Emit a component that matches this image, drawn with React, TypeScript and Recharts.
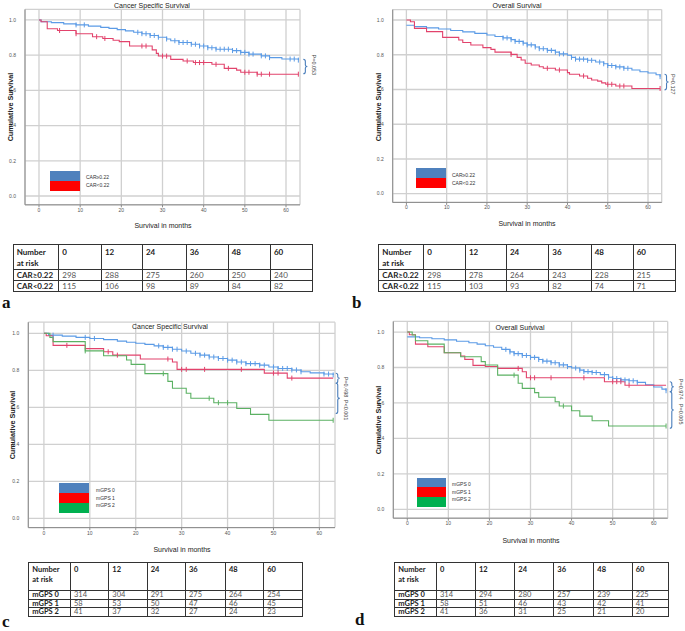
import React from "react";
import {
  ComposedChart,
  Line,
  Scatter,
  XAxis,
  YAxis,
  CartesianGrid,
  ReferenceLine,
  ReferenceDot,
} from "recharts";

type Step = [number, number];

const monthTicks = [0, 10, 20, 30, 40, 50, 60];
const survTicks = [0, 0.2, 0.4, 0.6, 0.8, 1.0];
const riskTimes = [0, 12, 24, 36, 48, 60];

const carNames = ["CAR≥0.22", "CAR<0.22"];
const gpsNames = ["mGPS 0", "mGPS 1", "mGPS 2"];

// a: cancer specific survival by CAR
const cssCarHigh: Step[] = [
  [0, 1], [0.5, 0.99], [3, 0.985], [6, 0.978], [9, 0.972], [12, 0.965], [15, 0.958],
  [17, 0.952], [19, 0.945], [21, 0.938], [23, 0.93], [25, 0.922], [27, 0.912], [29, 0.902],
  [31, 0.892], [32, 0.882], [34, 0.872], [37, 0.862], [39, 0.852], [41, 0.842], [43, 0.834],
  [47, 0.826], [49, 0.816], [51, 0.806], [54, 0.796], [56, 0.786], [59, 0.778], [63, 0.772],
];
const cssCarHighCens = [9, 11, 24, 25, 26, 27, 28, 29, 31, 33, 34, 35, 36, 37, 38, 39, 40, 41, 42, 43, 44, 45, 46, 47, 48, 49, 50, 51, 52, 54, 55, 56, 61, 62, 63];
const cssCarLow: Step[] = [
  [0, 1], [0.5, 0.99], [2, 0.95], [4.5, 0.94], [9, 0.922], [13, 0.905], [15.5, 0.895],
  [18, 0.885], [19.5, 0.877], [22, 0.852], [27.5, 0.83], [28.5, 0.81], [29, 0.795],
  [32, 0.776], [35, 0.767], [37.5, 0.758], [42, 0.748], [45, 0.725], [48, 0.715],
  [49, 0.703], [53, 0.692], [63, 0.692],
];
const cssCarLowCens = [5, 9, 14, 16, 25, 26, 30, 31, 36, 38, 39, 40, 43, 46, 50, 51, 53, 54, 56, 63];

// b: overall survival by CAR
const osCarHigh: Step[] = [
  [0, 0.97], [2, 0.962], [5, 0.955], [8, 0.948], [11, 0.94], [14, 0.932], [17, 0.923],
  [20, 0.914], [22, 0.905], [24, 0.897], [26, 0.887], [27, 0.877], [29, 0.867], [30, 0.857],
  [32, 0.845], [33, 0.835], [35, 0.825], [37, 0.815], [38, 0.805], [40, 0.797], [41, 0.785],
  [42, 0.775], [45, 0.768], [47, 0.758], [49, 0.748], [50, 0.738], [52, 0.73], [54, 0.722],
  [56, 0.712], [58, 0.702], [60, 0.695], [62, 0.685], [63, 0.674],
];
const osCarHighCens = [24, 25, 26, 27, 28, 29, 30, 31, 32, 33, 34, 35, 36, 37, 38, 39, 41, 42, 43, 44, 45, 46, 48, 49, 50, 51, 52, 53, 54, 55, 63];
const osCarLow: Step[] = [
  [0, 1], [1, 0.99], [2, 0.952], [5, 0.933], [9, 0.9], [13, 0.885], [14, 0.871], [16, 0.856],
  [19, 0.841], [21, 0.831], [22, 0.815], [26, 0.802], [27.5, 0.785], [28.5, 0.77],
  [29.5, 0.751], [31, 0.741], [33, 0.731], [34, 0.722], [37, 0.712], [40, 0.697],
  [40.5, 0.688], [43, 0.678], [45, 0.665], [46, 0.655], [47.5, 0.648], [48.5, 0.638],
  [49.5, 0.63], [52, 0.62], [56, 0.606], [63, 0.606],
];
const osCarLowCens = [26, 35, 38, 44, 50, 51, 53, 54, 63];

// c: cancer specific survival by mGPS
const cssGps0: Step[] = [
  [0, 1], [1, 0.99], [4, 0.985], [7, 0.978], [10, 0.972], [13, 0.966], [16, 0.958],
  [18, 0.952], [20, 0.946], [22, 0.94], [24, 0.932], [26, 0.924], [28, 0.914], [30, 0.904],
  [32, 0.892], [34, 0.882], [36, 0.872], [38, 0.864], [40, 0.855], [42, 0.845], [44, 0.836],
  [47, 0.828], [49, 0.818], [51, 0.81], [54, 0.802], [56, 0.792], [58, 0.786], [61, 0.78],
  [63, 0.775],
];
const cssGps0Cens = [2, 9, 11, 25, 26, 27, 28, 29, 31, 33, 34, 35, 36, 37, 38, 39, 40, 41, 42, 43, 44, 45, 46, 47, 48, 50, 51, 52, 53, 54, 55, 56, 61, 62, 63];
const cssGps1: Step[] = [
  [0, 1], [0.5, 0.987], [2, 0.935], [9, 0.917], [13, 0.9], [15, 0.882], [21, 0.861],
  [28, 0.845], [29, 0.805], [48, 0.785], [53, 0.758], [63, 0.758],
];
const cssGps1Cens = [5, 14, 16, 27, 30, 31, 35, 43, 50, 51, 54];
const cssGps2: Step[] = [
  [0, 1], [1.3, 0.978], [2, 0.955], [9, 0.905], [13, 0.879], [18, 0.856], [19, 0.832],
  [22, 0.782], [27, 0.74], [28, 0.703], [31, 0.676], [32, 0.649], [37, 0.625], [42, 0.594],
  [45, 0.562], [49, 0.53], [63, 0.53],
];
const cssGps2Cens = [9, 26, 36, 38, 40, 63];

// d: overall survival by mGPS
const osGps0: Step[] = [
  [0, 0.973], [3, 0.968], [6, 0.962], [9, 0.956], [12, 0.948], [15, 0.94], [17, 0.932],
  [19, 0.923], [21, 0.914], [23, 0.902], [25, 0.888], [26, 0.878], [28, 0.868], [30, 0.857],
  [32, 0.845], [33, 0.836], [35, 0.827], [37, 0.815], [39, 0.805], [40, 0.797], [42, 0.785],
  [43, 0.777], [45, 0.772], [47, 0.76], [49, 0.745], [50, 0.738], [52, 0.73], [54, 0.725],
  [56, 0.716], [58, 0.703], [60, 0.69], [62, 0.678], [63, 0.669],
];
const osGps0Cens = [24, 25, 26, 27, 28, 29, 30, 31, 32, 33, 34, 35, 36, 37, 38, 39, 41, 42, 43, 44, 45, 46, 48, 49, 50, 51, 52, 53, 54, 55, 56, 63];
const osGps1: Step[] = [
  [0, 1], [0.5, 0.985], [2, 0.932], [5, 0.917], [9, 0.883], [13, 0.865], [14, 0.846],
  [16, 0.812], [19, 0.806], [22, 0.795], [28, 0.776], [29, 0.742], [48, 0.72], [53, 0.7],
  [63, 0.7],
];
const osGps1Cens = [27, 30, 31, 35, 43, 50, 51, 52, 54];
const osGps2: Step[] = [
  [0, 1], [1.2, 0.983], [2, 0.951], [5, 0.932], [9, 0.883], [13, 0.861], [18, 0.833],
  [19, 0.814], [22, 0.757], [27, 0.711], [28, 0.682], [31, 0.658], [32, 0.632], [36, 0.607],
  [37, 0.583], [40, 0.556], [42, 0.526], [45, 0.5], [49, 0.47], [63, 0.47],
];
const osGps2Cens = [26, 38, 63];

// numbers at risk
const riskCssCarHigh = [298, 288, 275, 260, 250, 240];
const riskCssCarLow = [115, 106, 98, 89, 84, 82];
const riskOsCarHigh = [298, 278, 264, 243, 228, 215];
const riskOsCarLow = [115, 103, 93, 82, 74, 71];
const riskCssGps0 = [314, 304, 291, 275, 264, 254];
const riskCssGps1 = [58, 53, 50, 47, 46, 45];
const riskCssGps2 = [41, 37, 32, 27, 24, 23];
const riskOsGps0 = [314, 294, 280, 257, 239, 225];
const riskOsGps1 = [58, 51, 46, 43, 42, 41];
const riskOsGps2 = [41, 36, 31, 25, 21, 20];

// p-values
const pCssCar = ["P=0.053"];
const pOsCar = ["P=0.127"];
const pCssGps = ["P=0.498", "P<0.001"];
const pOsGps = ["P=0.974", "P=0.005"];

const LINE_COLORS = ["#5b9be6", "#e2436c", "#5bb163"];
const BOX_COLORS = ["#4f81bd", "#ff0000", "#00b050"];
const SPSS_FONT = '"Liberation Sans Narrow", "Liberation Sans", Arial, sans-serif';
const TABLE_FONT = 'Lato, "Open Sans", sans-serif';

const survAt = (steps: Step[], t: number) => {
  let s = steps[0][1];
  for (const [x, y] of steps) if (x <= t) s = y;
  return s;
};

const censorTick = (color: string) => (props: any) => {
  const { cx, cy } = props;
  if (cx == null || cy == null) return <g />;
  return <line x1={cx} x2={cx} y1={cy - 2.5} y2={cy + 2.5} stroke={color} strokeWidth={1} />;
};

const braceShape = (props: any) => {
  const { x1, y1, y2 } = props;
  if (x1 == null) return <g />;
  const top = Math.min(y1, y2);
  const bot = Math.max(y1, y2);
  const mid = (top + bot) / 2;
  const x = x1;
  const d = `M${x - 2},${top} Q${x},${top} ${x},${top + 2} L${x},${mid - 1.5} Q${x},${mid} ${x + 2},${mid} Q${x},${mid} ${x},${mid + 1.5} L${x},${bot - 2} Q${x},${bot} ${x - 2},${bot}`;
  return <path d={d} fill="none" stroke="#4a7ebb" strokeWidth={1.1} />;
};

const pText = (text: string) => (props: any) => {
  const { cx, cy } = props;
  if (cx == null) return <g />;
  return (
    <text
      transform={`translate(${cx},${cy}) rotate(90)`}
      textAnchor="middle"
      dominantBaseline="central"
      fontSize={5.5}
      fontFamily={SPSS_FONT}
      fill="#444"
    >
      {text}
    </text>
  );
};

interface Series {
  name: string;
  steps: Step[];
  cens: number[];
}

interface PanelProps {
  title: string;
  series: Series[];
  braces: { x: number; y1: number; y2: number }[];
  pLabels: { x: number; y: number; text: string }[];
  left: number;
  top: number;
  width: number;
  height: number;
  margin: { top: number; right: number; bottom: number; left: number };
  titlePos: [number, number];
  yLabelPos: [number, number];
  xLabelPos: [number, number];
  legend: { x: number; y: number; w: number; band: number; textX: number; textY: number; gap: number };
}

const abs = (x: number, y: number): React.CSSProperties => ({
  position: "absolute",
  left: x,
  top: y,
  transform: "translate(-50%, -50%)",
  whiteSpace: "nowrap",
});

function KmPanel(p: PanelProps) {
  return (
    <>
      <div style={{ position: "absolute", left: p.left, top: p.top }}>
        <ComposedChart width={p.width} height={p.height} margin={p.margin}>
          <CartesianGrid stroke="#d0d0d0" strokeWidth={1.3} />
          <XAxis
            dataKey="x"
            type="number"
            domain={[-3.4, 63.4]}
            ticks={monthTicks}
            allowDataOverflow
            height={12}
            tick={{ fontSize: 5, fill: "#555", fontFamily: SPSS_FONT }}
            tickSize={2.5}
            tickMargin={1}
            stroke="#8a8a8a"
          />
          <YAxis
            dataKey="y"
            type="number"
            domain={[-0.05, 1.06]}
            ticks={survTicks}
            allowDataOverflow
            width={22}
            tick={{ fontSize: 5, fill: "#555", fontFamily: SPSS_FONT }}
            tickFormatter={(v: number) => v.toFixed(1)}
            tickLine={false}
            tickMargin={3}
            stroke="#8a8a8a"
          />
          {p.series.map((s, i) => (
            <Line
              key={"l" + i}
              data={s.steps.map(([x, y]) => ({ x, y }))}
              dataKey="y"
              type="stepAfter"
              stroke={LINE_COLORS[i]}
              strokeWidth={1.1}
              dot={false}
              isAnimationActive={false}
            />
          ))}
          {p.series.map((s, i) => (
            <Scatter
              key={"c" + i}
              data={s.cens.map((t) => ({ x: t, y: survAt(s.steps, t) }))}
              dataKey="y"
              shape={censorTick(LINE_COLORS[i])}
              isAnimationActive={false}
            />
          ))}
          {p.braces.map((b, i) => (
            <ReferenceLine
              key={"b" + i}
              segment={[{ x: b.x, y: b.y1 }, { x: b.x, y: b.y2 }]}
              ifOverflow="visible"
              shape={braceShape}
            />
          ))}
          {p.pLabels.map((l, i) => (
            <ReferenceDot
              key={"p" + i}
              x={l.x}
              y={l.y}
              r={0}
              ifOverflow="visible"
              shape={pText(l.text)}
            />
          ))}
        </ComposedChart>
      </div>
      <div style={{ ...abs(p.titlePos[0], p.titlePos[1]), fontFamily: SPSS_FONT, fontSize: 7, color: "#222" }}>
        {p.title}
      </div>
      <div
        style={{
          ...abs(p.yLabelPos[0], p.yLabelPos[1]),
          transform: "translate(-50%, -50%) rotate(-90deg)",
          fontFamily: '"Liberation Sans", Arial, sans-serif',
          fontSize: 7.2,
          fontWeight: 700,
          color: "#222",
        }}
      >
        Cumulative Survival
      </div>
      <div style={{ ...abs(p.xLabelPos[0], p.xLabelPos[1]), fontFamily: SPSS_FONT, fontSize: 7, color: "#222" }}>
        Survival in months
      </div>
      {p.series.map((s, i) => (
        <React.Fragment key={"lg" + i}>
          <div
            style={{
              position: "absolute",
              left: p.legend.x,
              top: p.legend.y + i * p.legend.band,
              width: p.legend.w,
              height: p.legend.band,
              background: BOX_COLORS[i],
            }}
          />
          <div
            style={{
              position: "absolute",
              left: p.legend.textX,
              top: p.legend.textY + i * p.legend.gap,
              transform: "translateY(-50%)",
              fontFamily: '"Liberation Sans", Arial, sans-serif',
              fontSize: 5,
              color: "#333",
              whiteSpace: "nowrap",
            }}
          >
            {s.name}
          </div>
        </React.Fragment>
      ))}
    </>
  );
}

interface TableProps {
  left: number;
  top: number;
  colW: number[];
  headH: number;
  rowH: number;
  fontSize: number;
  names: string[];
  rows: number[][];
}

function RiskTable(t: TableProps) {
  const cell: React.CSSProperties = {
    border: "1px solid #333",
    padding: "0 3px",
    overflow: "hidden",
    whiteSpace: "nowrap",
  };
  return (
    <table
      style={{
        position: "absolute",
        left: t.left,
        top: t.top,
        borderCollapse: "collapse",
        tableLayout: "fixed",
        width: t.colW.reduce((a, b) => a + b, 0),
        fontFamily: TABLE_FONT,
        fontSize: t.fontSize,
        lineHeight: 1,
        color: "#222",
        borderTop: "1.5px solid #333",
        borderBottom: "1.5px solid #333",
      }}
    >
      <colgroup>
        {t.colW.map((w, i) => (
          <col key={i} style={{ width: w }} />
        ))}
      </colgroup>
      <tbody>
        <tr style={{ height: t.headH }}>
          <td style={{ ...cell, fontWeight: 700, verticalAlign: "top", paddingTop: 2, lineHeight: 1.35 }}>
            Number
            <br />
            at risk
          </td>
          {riskTimes.map((m) => (
            <td key={m} style={{ ...cell, fontWeight: 700, verticalAlign: "top", paddingTop: 2, lineHeight: 1.35 }}>
              {m}
            </td>
          ))}
        </tr>
        {t.rows.map((r, i) => (
          <tr key={i} style={{ height: t.rowH }}>
            <td style={{ ...cell, fontWeight: 700 }}>{t.names[i]}</td>
            {r.map((v, j) => (
              <td key={j} style={{ ...cell, color: "#555" }}>
                {v}
              </td>
            ))}
          </tr>
        ))}
      </tbody>
    </table>
  );
}

const letterStyle = (x: number, y: number): React.CSSProperties => ({
  position: "absolute",
  left: x,
  top: y,
  fontFamily: '"Liberation Serif", "Times New Roman", serif',
  fontWeight: 700,
  fontSize: 17,
  lineHeight: 1,
  color: "#111",
});

export default function App() {
  return (
    <div style={{ position: "absolute", left: 0, top: 0, width: 685, height: 631, background: "#fff", overflow: "hidden" }}>
      <KmPanel
        title="Cancer Specific Survival"
        series={[
          { name: carNames[0], steps: cssCarHigh, cens: cssCarHighCens },
          { name: carNames[1], steps: cssCarLow, cens: cssCarLowCens },
        ]}
        braces={[{ x: 64.7, y1: 0.776, y2: 0.695 }]}
        pLabels={[{ x: 66.7, y: 0.745, text: pCssCar[0] }]}
        left={0}
        top={0}
        width={345}
        height={235}
        margin={{ top: 9.4, right: 45, bottom: 18.2, left: 3 }}
        titlePos={[152, 5]}
        yLabelPos={[10, 107]}
        xLabelPos={[163, 225]}
        legend={{ x: 50, y: 171, w: 30, band: 10, textX: 86, textY: 176.7, gap: 8.3 }}
      />
      <KmPanel
        title="Overall Survival"
        series={[
          { name: carNames[0], steps: osCarHigh, cens: osCarHighCens },
          { name: carNames[1], steps: osCarLow, cens: osCarLowCens },
        ]}
        braces={[{ x: 64.6, y1: 0.688, y2: 0.598 }]}
        pLabels={[{ x: 66.3, y: 0.63, text: pOsCar[0] }]}
        left={345}
        top={0}
        width={340}
        height={235}
        margin={{ top: 9.6, right: 23.3, bottom: 20.6, left: 25.7 }}
        titlePos={[517, 5]}
        yLabelPos={[378, 107]}
        xLabelPos={[527, 223]}
        legend={{ x: 416, y: 167.7, w: 30, band: 10.3, textX: 452, textY: 175, gap: 8 }}
      />
      <KmPanel
        title="Cancer Specific Survival"
        series={[
          { name: gpsNames[0], steps: cssGps0, cens: cssGps0Cens },
          { name: gpsNames[1], steps: cssGps1, cens: cssGps1Cens },
          { name: gpsNames[2], steps: cssGps2, cens: cssGps2Cens },
        ]}
        braces={[
          { x: 64, y1: 0.784, y2: 0.73 },
          { x: 64, y1: 0.73, y2: 0.567 },
        ]}
        pLabels={[
          { x: 65.9, y: 0.71, text: pCssGps[0] },
          { x: 65.9, y: 0.585, text: pCssGps[1] },
        ]}
        left={0}
        top={320}
        width={360}
        height={240}
        margin={{ top: 2.2, right: 25, bottom: 20.4, left: 6.3 }}
        titlePos={[170, 326]}
        yLabelPos={[11.7, 425]}
        xLabelPos={[182, 549]}
        legend={{ x: 59, y: 482.7, w: 30, band: 10, textX: 96, textY: 490, gap: 7.5 }}
      />
      <KmPanel
        title="Overall Survival"
        series={[
          { name: gpsNames[0], steps: osGps0, cens: osGps0Cens },
          { name: gpsNames[1], steps: osGps1, cens: osGps1Cens },
          { name: gpsNames[2], steps: osGps2, cens: osGps2Cens },
        ]}
        braces={[
          { x: 64.4, y1: 0.72, y2: 0.663 },
          { x: 64.4, y1: 0.663, y2: 0.457 },
        ]}
        pLabels={[
          { x: 66.6, y: 0.678, text: pOsGps[0] },
          { x: 66.6, y: 0.537, text: pOsGps[1] },
        ]}
        left={345}
        top={320}
        width={340}
        height={240}
        margin={{ top: 1.4, right: 17.3, bottom: 29.8, left: 26.3 }}
        titlePos={[520, 327]}
        yLabelPos={[378.3, 420]}
        xLabelPos={[531, 540]}
        legend={{ x: 416.7, y: 477.7, w: 29.3, band: 9.7, textX: 452, textY: 484, gap: 7.5 }}
      />

      <RiskTable
        left={12.7}
        top={244}
        colW={[45.6, 42.7, 41, 43.7, 42, 42.3, 41.7]}
        headH={25}
        rowH={11}
        fontSize={8}
        names={carNames}
        rows={[riskCssCarHigh, riskCssCarLow]}
      />
      <RiskTable
        left={378.3}
        top={244}
        colW={[45, 41.7, 41, 42.3, 42.4, 42, 42.3]}
        headH={25}
        rowH={11}
        fontSize={8}
        names={carNames}
        rows={[riskOsCarHigh, riskOsCarLow]}
      />
      <RiskTable
        left={28.3}
        top={562}
        colW={[41.7, 38.3, 38.4, 38.3, 40, 38.3, 39]}
        headH={28}
        rowH={7.6}
        fontSize={7.5}
        names={gpsNames}
        rows={[riskCssGps0, riskCssGps1, riskCssGps2]}
      />
      <RiskTable
        left={394.3}
        top={562}
        colW={[41.7, 39, 39.3, 39, 40, 38.4, 36]}
        headH={28}
        rowH={7.6}
        fontSize={7.5}
        names={gpsNames}
        rows={[riskOsGps0, riskOsGps1, riskOsGps2]}
      />

      <div style={letterStyle(2, 294)}>a</div>
      <div style={letterStyle(352, 294)}>b</div>
      <div style={letterStyle(2, 613)}>c</div>
      <div style={letterStyle(355, 611)}>d</div>
    </div>
  );
}
